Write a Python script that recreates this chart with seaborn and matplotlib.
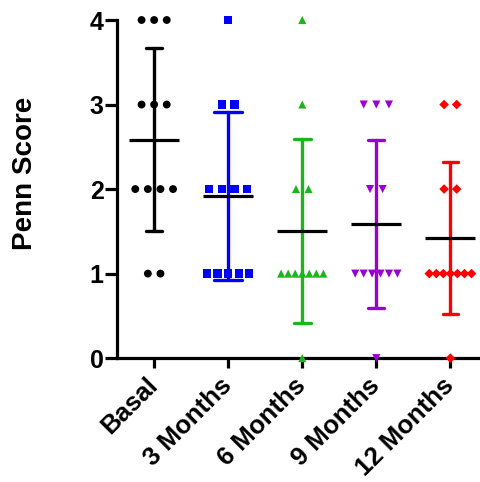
import numpy as np
import pandas as pd
import matplotlib
matplotlib.use("Agg")
import matplotlib.pyplot as plt
import seaborn as sns

# Penn scores per time point (n = 12 each)
groups = ["Basal", "3 Months", "6 Months", "9 Months", "12 Months"]
basal = [4, 4, 4, 3, 3, 3, 2, 2, 2, 2, 1, 1]
months_3 = [4, 3, 3, 2, 2, 2, 2, 1, 1, 1, 1, 1]
months_6 = [4, 3, 2, 2, 1, 1, 1, 1, 1, 1, 1, 0]
months_9 = [3, 3, 3, 2, 2, 1, 1, 1, 1, 1, 1, 0]
months_12 = [3, 3, 2, 2, 1, 1, 1, 1, 1, 1, 1, 0]
y_ticks = [0, 1, 2, 3, 4]

colors = ["#000000", "#0000FF", "#1DB41D", "#9A00D2", "#FF0000"]
markers = ["o", "s", "^", "v", "D"]
marker_sizes = [32, 36, 34, 34, 24]
cap_widths = [0.22, 0.38, 0.23, 0.22, 0.21]

series = [basal, months_3, months_6, months_9, months_12]


def spread(values, center):
    """Lay tied values side by side, centred on the category."""
    values = np.asarray(values, dtype=float)
    xs = np.empty_like(values)
    for v in np.unique(values):
        idx = np.where(values == v)[0]
        k = len(idx)
        step = 0.17 if k < 2 else min(0.17, 0.57 / (k - 1))
        xs[idx] = center + (np.arange(k) - (k - 1) / 2) * step
    return xs


rows = []
for i, (g, vals) in enumerate(zip(groups, series)):
    for x, v in zip(spread(vals, i), vals):
        rows.append({"group": g, "score": v, "xpos": x})
df = pd.DataFrame(rows)

sns.set_style("white")
plt.rcParams["font.family"] = ["Liberation Sans", "DejaVu Sans"]
plt.rcParams["font.weight"] = "bold"
for key in ["text.color", "axes.labelcolor", "xtick.color", "ytick.color"]:
    plt.rcParams[key] = "black"

fig = plt.figure(figsize=(4.8, 4.82), dpi=100)
ax = fig.add_axes([0.244, 0.257, 0.756, 0.7015])

# mean +/- SD error bars, one colour per group
for i, g in enumerate(groups):
    sns.pointplot(
        data=df[df["group"] == g], x="group", y="score", order=groups,
        errorbar="sd", capsize=cap_widths[i], color=colors[i],
        marker="none", linestyle="none",
        err_kws={"linewidth": 2.4, "zorder": 2}, ax=ax,
    )

# individual scores
sns.scatterplot(
    data=df, x="xpos", y="score", hue="group", style="group", size="group",
    palette=dict(zip(groups, colors)), markers=dict(zip(groups, markers)),
    sizes=dict(zip(groups, marker_sizes)), linewidth=0, legend=False,
    clip_on=False, zorder=3, ax=ax,
)

# group means
sns.pointplot(
    data=df, x="group", y="score", order=groups, errorbar=None,
    color="black", marker="_", markersize=36, markeredgewidth=2.3,
    linestyle="none", zorder=4, ax=ax,
)

ax.set_xlim(-0.5, 4.4)
ax.set_ylim(0, 4)
ax.set_yticks(y_ticks)
ax.set_xticks(range(len(groups)))
ax.set_xticklabels(groups, rotation=45, ha="right", va="center",
                   rotation_mode="anchor")
ax.set_xlabel("")
ax.set_ylabel("Penn Score", fontsize=20, fontweight="bold")
ax.yaxis.set_label_coords(-0.218, 0.545)

sns.despine(ax=ax)
for side in ["left", "bottom"]:
    ax.spines[side].set_linewidth(2.3)
    ax.spines[side].set_color("black")
ax.tick_params(axis="y", length=8.6, width=2.3, labelsize=18, pad=1, left=True)
ax.tick_params(axis="x", length=7, width=2.3, labelsize=18.5, pad=10, bottom=True)
for lab in ax.get_xticklabels() + ax.get_yticklabels():
    lab.set_fontweight("bold")

fig.savefig("out.png", dpi=100)
